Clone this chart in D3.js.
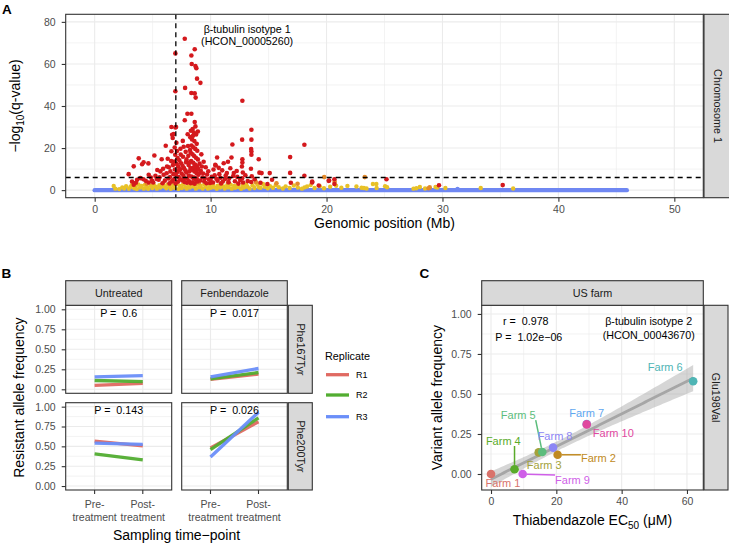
<!DOCTYPE html>
<html><head><meta charset="utf-8">
<script src="https://cdn.jsdelivr.net/npm/d3@7"></script>
<style>
body{margin:0;background:#fff}
svg text{font-family:"Liberation Sans",Arial,Helvetica,sans-serif}
</style>
</head><body>
<svg id="chart" width="729" height="547"></svg>
<script>
// ================= DATA =================
// Panel A: genomic position (Mb) and -log10(q-value)
const redPoints = [
[2.93,7.6],[3.22,4.1],[3.37,2.6],[3.66,4.9],[3.94,5.7],[3.37,11.3],[3.8,15.1],[4.09,12.3],[4.22,13.2],[4.63,12.7],[4.66,7.3],[4.66,3.6],[4.95,4.4],[5.15,16.5],[5.24,6.8],[5.52,4.9],[5.67,8.9],[5.78,14.7],[5.95,7.3],[5.85,3.3],[6.13,21.1],[6.24,11.2],[6.35,5.5],[6.45,3.2],[6.53,8.9],[6.6,13.8],[6.68,26.3],[6.73,24.8],[6.82,26.7],[6.62,18.5],[6.62,30.0],
[6.96,65],[6.96,47],[6.96,29.8],[7.02,30],[7.05,22.5],[6.9,20.3],[7.1,18.6],[6.95,16.8],[7.15,15.2],[6.88,13.6],[7.08,12.4],[7.2,11.1],[6.92,9.8],[7.12,8.6],[7.0,7.3],[7.25,6.2],[6.85,5.1],[7.18,4.0],[6.98,3.1],[7.3,14.2],[7.28,9.3],
[7.4,19.7],[7.45,12.8],[7.5,7.9],[7.55,4.6],[7.6,23.4],[7.62,15.9],[7.7,10.5],[7.72,5.8],[7.77,72],[7.8,48.6],[7.77,33.2],[7.85,18.2],[7.88,13.3],[7.9,8.4],[7.95,3.5],[8.0,36.3],[8.02,26.6],[8.05,21.0],[8.08,16.3],[8.1,11.9],[8.12,6.9],[8.15,4.2],
[8.34,64],[8.37,60],[8.63,67],[8.69,59],[8.77,58],[8.83,53],[9.12,51],[8.34,46.2],[8.63,46],[8.71,44],[8.34,36.3],[8.63,32.4],[8.3,28.2],[8.69,30.3],[8.45,29.1],[8.55,27.4],[8.75,26.5],[8.25,25.2],[8.4,24.1],[8.6,23.3],[8.8,22.0],[8.35,21.2],[8.5,20.4],[8.68,19.6],[8.85,18.7],[8.28,17.9],[8.44,17.0],[8.58,16.2],[8.73,15.4],[8.9,14.6],[8.32,13.8],[8.5,13.0],[8.66,12.2],[8.82,11.3],[8.26,10.5],[8.42,9.7],[8.6,8.9],[8.78,8.1],[8.95,7.3],[8.35,6.5],[8.52,5.7],[8.7,4.9],[8.88,4.1],[8.3,3.3],[8.62,3.0],[8.48,25.8],[8.9,27.9],
[9.2,17.0],[9.05,12.6],[9.15,9.2],[9.3,6.0],[9.45,4.1],[9.58,10.9],[9.7,7.4],[9.85,5.2],[9.95,3.4],[9.4,13.5],
[10.1,6.3],[10.25,9.8],[10.4,12.0],[10.44,11.7],[10.56,15.5],[10.6,4.5],[10.75,7.6],[10.9,3.2],[11.0,9.4],[11.13,12.8],[11.25,5.3],[11.4,8.1],[11.55,3.8],[11.7,10.4],[11.8,15.5],[11.88,21.7],[11.95,6.7],[12.1,4.2],[12.25,9.1],[12.4,3.1],
[12.74,42.5],[12.72,24],[12.74,14.7],[12.74,13.1],[12.7,11.2],[12.78,8.4],[12.72,5.6],[12.8,3.6],[13.0,7.1],[13.2,4.3],[13.52,28.7],[13.52,24],[13.5,19.5],[13.52,18.4],[13.52,16.8],[13.48,10.2],[13.55,6.6],[13.5,3.9],[13.8,5.2],[14.15,14.7],[14.21,8.3],[14.4,8.1],[14.3,3.5],
[15.1,8.1],[15.3,4.9],[14.9,2.9],[16.86,15.7],[16.86,8.2],[16.92,3.5],[18.09,21.6],[18.09,6.8],[18.76,3.6],[18.76,4.1],[19.33,2.2],[20.19,4.4],[20.22,4.6],[20.68,5.2],[20.68,2.9],
[25.17,5.2],[29.7,2.3],[35.2,2.4],
[5.4,9.6],[5.6,6.1],[5.9,10.2],[6.05,4.5],[6.2,8.0],[6.3,14.9],[6.4,10.9],[6.5,6.2],[6.7,4.3],[6.75,11.9],[6.8,7.6],[7.35,5.3],[7.4,9.9],[7.42,16.9],[7.58,11.6],[7.65,6.8],[7.68,20.6],[7.75,3.9],[7.82,9.4],[7.92,14.6],[7.98,5.4],[8.18,9.0],[8.2,13.2],[8.22,19.1],[8.45,3.7],[8.55,10.9],[8.6,6.0],[8.75,9.6],[8.8,5.5],[8.92,10.1],[9.0,8.0],[9.1,4.6],[9.25,11.2],[9.35,7.9],[9.5,5.6],[9.65,3.3],[9.8,9.0],[10.0,4.8],[10.2,3.6],[10.35,7.0],[10.5,5.4],[10.7,10.6],[10.85,5.9],[11.05,4.1],[11.3,6.9],[11.6,5.6],[11.5,13.5],[12.0,8.1],[12.3,6.3],[12.55,4.8],[4.4,4.4],[4.85,6.0],[5.05,3.6],[5.35,5.3],[3.55,3.5],[4.2,5.2]
];
const orangePoints = [
[4.5,3.1],[6.6,3.8],[9.0,3.6],[11.5,3.5],[13.9,3.9],[15.68,3.3],[17.5,3.0],[19.8,6.2],[20.7,4.0],[23.3,6.2],[28.8,0.9],[28.9,1.3]
];
const yellowPoints = [
[1.64,2.0],[1.78,0.7],[2.12,0.5],[2.38,1.3],[2.55,0.8],[2.71,1.9],[2.95,0.6],[3.08,1.5],[3.19,2.4],[3.41,0.9],[3.52,1.8],[3.63,0.5],[3.77,2.7],[3.92,1.2],[4.03,2.0],[4.24,0.7],[4.33,2.5],[4.52,1.4],[4.61,0.6],[4.83,2.1],[4.97,1.0],[5.08,2.8],[5.27,1.6],[5.36,0.7],[5.58,2.3],[5.66,1.2],[5.88,3.0],[5.97,1.7],[6.18,0.9],[6.27,2.6],[6.48,1.5],[6.57,0.6],[6.79,2.2],[6.88,1.1],[7.07,2.9],[7.22,0.5],[7.33,2.0],[7.52,1.0],[7.63,2.7],[7.84,1.4],[7.93,0.7],[8.12,2.3],[8.21,1.2],[8.43,3.0],[8.52,1.7],[8.73,0.7],[8.82,2.5],[9.03,1.3],[9.14,2.1],[9.32,0.8],[9.47,2.8],[9.58,1.6],[9.77,0.7],[9.92,2.3],[10.03,1.1],[10.22,2.7],[10.31,1.4],[10.53,0.6],[10.62,2.1],[10.83,1.2],[10.92,2.9],[11.13,1.7],[11.22,0.8],[11.43,2.4],[11.52,1.3],[11.73,2.6],[11.82,0.7],[12.03,2.0],[12.12,1.1],[12.33,2.8],[12.42,1.5],[12.63,0.6],[12.77,2.2],[12.88,1.2],[13.07,2.7],[13.18,1.6],[13.37,0.8],[13.62,2.3],[13.78,1.0],[14.03,2.6],[14.18,1.3],[14.31,1.1],[14.52,2.9],[14.68,1.6],[14.93,0.9],[15.12,1.9],[15.38,1.1],[15.62,2.4],[15.88,1.4],[16.23,0.8],[16.47,1.8],[16.82,1.0],[17.18,2.2],[17.53,1.2],[17.88,0.7],[18.1,1.3],[18.32,1.7],[18.63,2.4],[18.97,1.0],[19.42,1.9],[19.78,0.9],[20.31,1.6],[20.83,2.1],[21.28,1.1],[21.8,2.0],[22.58,1.7],[23.02,1.1],[23.22,1.0],[23.45,0.8],[24.0,2.9],[24.32,1.0],[24.3,2.9],[25.05,1.9],[25.22,1.4],[27.5,0.7],[27.75,0.9],[28.05,1.5],[28.5,0.8],[29.4,1.5],[29.55,1.2],[30.25,1.0],[33.3,1.0],[36.1,0.8]
];
const bluePoints = [[7.9,0.5],[12.5,0.4],[31.3,0.6]];
const blueSpan = [0, 45.9];
const genomeXTicks = [0,10,20,30,40,50];
const genomeYTicks = [0,20,40,60,80];
const markerPositionMb = 7.0;
const significanceLine = 6;
const geneLabelA = ["β-tubulin isotype 1","(HCON_00005260)"];
const chromosomeLabel = "Chromosome 1";

// Panel B: resistant allele frequency [pre, post] for R1, R2, R3
const treatments = ["Untreated","Fenbendazole"];
const mutations = ["Phe167Tyr","Phe200Tyr"];
const timepoints = [["Pre-","treatment"],["Post-","treatment"]];
const replicates = ["R1","R2","R3"];
const untreated167 = [[0.05,0.075],[0.11,0.095],[0.155,0.17]];
const fenbendazole167 = [[0.125,0.19],[0.13,0.21],[0.155,0.26]];
const untreated200 = [[0.565,0.505],[0.405,0.33],[0.54,0.525]];
const fenbendazole200 = [[0.48,0.81],[0.46,0.86],[0.365,0.93]];
const pValuesB = [["0.6","0.017"],["0.143","0.026"]];
const freqTicks = [0,0.25,0.5,0.75,1];

// Panel C: thiabendazole EC50 vs variant allele frequency
const farms = ["Farm 1","Farm 2","Farm 3","Farm 4","Farm 5","Farm 6","Farm 7","Farm 8","Farm 9","Farm 10"];
const ec50 = [0, 20.4, 14.6, 7.2, 15.7, 61.9, 29.3, 19.0, 9.7, 29.3];
const variantFreq = [0.0, 0.12, 0.135, 0.03, 0.137, 0.579, 0.312, 0.165, 0.0, 0.31];
const ec50Ticks = [0,20,40,60];
const statsC = ["r =  0.978","P =  1.02e\u221206"];
const geneLabelC = ["β-tubulin isotype 2","(HCON_00043670)"];

// ================= STYLE =================
const LINE = "#333333", TICKTXT = "#4d4d4d", GRID = "#ebebeb", STRIP = "#d9d9d9";
const TICKF = 10.5, STRIPF = 10.8, TITLEF = 14;
const replicateColors = ["#e06a62","#52ad31","#6b8ff9"];
const farmColors = ["#d9736b","#c08a22","#a3a23a","#5aab2a","#5cbd7c","#4fb5b5","#5fa7f0","#8c86f5","#cf5fe8","#e0489f"];
const labelOffsets = [[12,8.7],[40.7,3.5],[5.6,12.6],[-11.2,-28.2],[-24,-37],[-27.9,-13.7],[0,-11],[2,-11.6],[49.8,6],[26.6,9]];

const svg = d3.select("#chart");
svg.append("rect").attr("width",729).attr("height",547).attr("fill","#fff");

function panelBg(g, b, xs, ys, xMaj, xMin, yMaj, yMin){
  g.append("rect").attr("x",b.x0).attr("y",b.y0).attr("width",b.x1-b.x0).attr("height",b.y1-b.y0).attr("fill","#fff");
  const gl = g.append("g");
  xMin.forEach(v=>gl.append("line").attr("x1",xs(v)).attr("x2",xs(v)).attr("y1",b.y0).attr("y2",b.y1).attr("stroke",GRID).attr("stroke-width",0.6));
  yMin.forEach(v=>gl.append("line").attr("y1",ys(v)).attr("y2",ys(v)).attr("x1",b.x0).attr("x2",b.x1).attr("stroke",GRID).attr("stroke-width",0.6));
  xMaj.forEach(v=>gl.append("line").attr("x1",xs(v)).attr("x2",xs(v)).attr("y1",b.y0).attr("y2",b.y1).attr("stroke",GRID).attr("stroke-width",1.1));
  yMaj.forEach(v=>gl.append("line").attr("y1",ys(v)).attr("y2",ys(v)).attr("x1",b.x0).attr("x2",b.x1).attr("stroke",GRID).attr("stroke-width",1.1));
}
function border(g, b){
  g.append("rect").attr("x",b.x0).attr("y",b.y0).attr("width",b.x1-b.x0).attr("height",b.y1-b.y0)
   .attr("fill","none").attr("stroke",LINE).attr("stroke-width",1.1);
}
function styleAxis(a){
  a.select(".domain").remove();
  a.selectAll(".tick line").attr("stroke",LINE).attr("stroke-width",1.1);
  a.selectAll(".tick text").attr("fill",TICKTXT).attr("font-size",TICKF).attr("font-family",null);
  a.attr("font-family",null);
}
function leftAxis(g, b, ys, vals, fmt){
  g.append("g").attr("transform",`translate(${b.x0},0)`)
   .call(d3.axisLeft(ys).tickValues(vals).tickSize(4).tickPadding(6).tickFormat(fmt)).call(styleAxis);
}
function bottomAxis(g, b, xs, vals, fmt){
  g.append("g").attr("transform",`translate(0,${b.y1})`)
   .call(d3.axisBottom(xs).tickValues(vals).tickSize(4).tickPadding(3.5).tickFormat(fmt)).call(styleAxis);
}
function stripTop(g, x0, x1, y0, y1, label){
  g.append("rect").attr("x",x0).attr("y",y0).attr("width",x1-x0).attr("height",y1-y0)
   .attr("fill",STRIP).attr("stroke",LINE).attr("stroke-width",1.1);
  g.append("text").attr("x",(x0+x1)/2).attr("y",(y0+y1)/2).attr("dy","0.35em")
   .attr("text-anchor","middle").attr("font-size",STRIPF).attr("fill","#1a1a1a").text(label);
}
function stripRight(g, x0, x1, y0, y1, label){
  g.append("rect").attr("x",x0).attr("y",y0).attr("width",x1-x0).attr("height",y1-y0)
   .attr("fill",STRIP).attr("stroke",LINE).attr("stroke-width",1.1);
  const cx=(x0+x1)/2, cy=(y0+y1)/2;
  g.append("text").attr("transform",`translate(${cx},${cy}) rotate(90)`).attr("dy","0.35em")
   .attr("text-anchor","middle").attr("font-size",STRIPF).attr("fill","#1a1a1a").text(label);
}
function panelTag(x,y,t){
  svg.append("text").attr("x",x).attr("y",y).attr("font-size",13.5).attr("font-weight","bold").text(t);
}

// ================= PANEL A =================
{
  const b = {x0:65.7,x1:703.3,y0:14.3,y1:197.7};
  const g = svg.append("g");
  const xs = d3.scaleLinear().domain([-2.5,52.5]).range([b.x0,b.x1]);
  const ys = d3.scaleLinear().domain([-3.6,83.6]).range([b.y1,b.y0]);
  panelBg(g,b,xs,ys,genomeXTicks,[5,15,25,35,45],genomeYTicks,[10,30,50,70]);
  g.append("clipPath").attr("id","clipA").append("rect").attr("x",b.x0).attr("y",b.y0).attr("width",b.x1-b.x0).attr("height",b.y1-b.y0);
  const pg = g.append("g").attr("clip-path","url(#clipA)");
  pg.append("line").attr("x1",xs(blueSpan[0])).attr("x2",xs(blueSpan[1])).attr("y1",ys(0)).attr("y2",ys(0))
    .attr("stroke","#6f87f2").attr("stroke-width",4.4).attr("stroke-linecap","round");
  pg.selectAll(".bp").data(bluePoints).join("circle").attr("cx",d=>xs(d[0])).attr("cy",d=>ys(d[1])).attr("r",2.2).attr("fill","#6f87f2");
  pg.selectAll(".yp").data(yellowPoints).join("circle").attr("cx",d=>xs(d[0])).attr("cy",d=>ys(d[1])).attr("r",2.2).attr("fill","#e8c127");
  pg.selectAll(".op").data(orangePoints).join("circle").attr("cx",d=>xs(d[0])).attr("cy",d=>ys(d[1])).attr("r",2.3).attr("fill","#e48a2a");
  pg.selectAll(".rp").data(redPoints).join("circle").attr("cx",d=>xs(d[0])).attr("cy",d=>ys(d[1])).attr("r",2.3).attr("fill","#d4191d");
  pg.append("line").attr("x1",xs(markerPositionMb)).attr("x2",xs(markerPositionMb)).attr("y1",b.y0).attr("y2",b.y1)
    .attr("stroke","#000").attr("stroke-width",1.3).attr("stroke-dasharray","5,4");
  pg.append("line").attr("x1",b.x0).attr("x2",b.x1).attr("y1",ys(significanceLine)).attr("y2",ys(significanceLine))
    .attr("stroke","#000").attr("stroke-width",1.3).attr("stroke-dasharray","5,4");
  geneLabelA.forEach((t,i)=>g.append("text").attr("x",xs(13.15)).attr("y",ys(76.6)+i*12.7).attr("dy","0.35em")
    .attr("text-anchor","middle").attr("font-size",10.7).attr("fill","#000").text(t));
  border(g,b);
  leftAxis(g,b,ys,genomeYTicks,d3.format("d"));
  bottomAxis(g,b,xs,genomeXTicks,d3.format("d"));
  stripRight(g,704,731,b.y0,b.y1,chromosomeLabel);
  g.append("text").attr("x",(b.x0+b.x1)/2).attr("y",228).attr("text-anchor","middle").attr("font-size",TITLEF).text("Genomic position (Mb)");
  const yt = g.append("text").attr("transform",`translate(15.5,${(b.y0+b.y1)/2}) rotate(-90)`).attr("dy","0.35em")
    .attr("text-anchor","middle").attr("font-size",TITLEF);
  yt.append("tspan").text("\u2212log");
  yt.append("tspan").attr("font-size",10).attr("dy","4").text("10");
  yt.append("tspan").attr("dy","-4").text("(q-value)");
  panelTag(2,13.5,"A");
}

// ================= PANEL B =================
{
  const cols = [{x0:65.7,x1:171.7},{x0:181.7,x1:287.3}];
  const rows = [{y0:305.3,y1:393.3},{y0:402.7,y1:490}];
  const series = [[untreated167,fenbendazole167],[untreated200,fenbendazole200]];
  const g = svg.append("g");
  rows.forEach((r,ri)=>{
    cols.forEach((c,ci)=>{
      const b = {x0:c.x0,x1:c.x1,y0:r.y0,y1:r.y1};
      const xs = d3.scalePoint().domain([0,1]).range([b.x0,b.x1]).padding(0.6);
      const ys = d3.scaleLinear().domain([-0.05,1.05]).range([b.y1,b.y0]);
      panelBg(g,b,xs,ys,[0,1],[],freqTicks,[0.125,0.375,0.625,0.875]);
      series[ri][ci].forEach((v,k)=>{
        g.append("line").attr("x1",xs(0)).attr("x2",xs(1)).attr("y1",ys(v[0])).attr("y2",ys(v[1]))
          .attr("stroke",replicateColors[k]).attr("stroke-width",3.3).attr("opacity",0.95);
      });
      g.append("text").attr("x",(b.x0+b.x1)/2).attr("y",ys(0.95)).attr("dy","0.35em").attr("text-anchor","middle")
        .attr("font-size",10.7).style("white-space","pre").text("P =  "+pValuesB[ri][ci]);
      border(g,b);
      if(ci===0) leftAxis(g,b,ys,freqTicks,d3.format(".2f"));
      if(ri===1){
        const ax = g.append("g");
        [0,1].forEach(t=>{
          ax.append("line").attr("x1",xs(t)).attr("x2",xs(t)).attr("y1",b.y1).attr("y2",b.y1+4).attr("stroke",LINE).attr("stroke-width",1.1);
          timepoints[t].forEach((ln,li)=>ax.append("text").attr("x",xs(t)).attr("y",b.y1+17.5+li*13)
            .attr("text-anchor","middle").attr("font-size",TICKF).attr("fill",TICKTXT).text(ln));
        });
      }
      if(ri===0) stripTop(g,c.x0,c.x1,280.7,305.3,treatments[ci]);
      if(ci===1) stripRight(g,288.3,312.3,r.y0,r.y1,mutations[ri]);
    });
  });
  g.append("text").attr("x",(65.7+287.3)/2).attr("y",540).attr("text-anchor","middle").attr("font-size",TITLEF).text("Sampling time\u2212point");
  g.append("text").attr("transform",`translate(19,${(305.3+490)/2}) rotate(-90)`).attr("dy","0.35em")
    .attr("text-anchor","middle").attr("font-size",TITLEF).text("Resistant allele frequency");
  // legend
  g.append("text").attr("x",325).attr("y",359.5).attr("font-size",10.8).text("Replicate");
  const keyY = [374.7,395,416.7];
  replicates.forEach((r,i)=>{
    g.append("line").attr("x1",326).attr("x2",349).attr("y1",keyY[i]).attr("y2",keyY[i]).attr("stroke",replicateColors[i]).attr("stroke-width",3.3);
    g.append("text").attr("x",356).attr("y",keyY[i]).attr("dy","0.35em").attr("font-size",9).text(r);
  });
  panelTag(1.5,277.7,"B");
}

// ================= PANEL C =================
{
  const b = {x0:481.7,x1:703.3,y0:305.3,y1:490};
  const g = svg.append("g");
  const xs = d3.scaleLinear().domain([-2.85,65.0]).range([b.x0,b.x1]);
  const ys = d3.scaleLinear().domain([-0.1,1.054]).range([b.y1,b.y0]);
  panelBg(g,b,xs,ys,ec50Ticks,[10,30,50],freqTicks,[0.125,0.375,0.625,0.875]);
  // linear fit with 95% confidence band
  const n = ec50.length, mx = d3.mean(ec50), my = d3.mean(variantFreq);
  const sxx = d3.sum(ec50,x=>(x-mx)*(x-mx));
  const sxy = d3.sum(ec50.map((x,i)=>(x-mx)*(variantFreq[i]-my)));
  const slope = sxy/sxx, icpt = my - slope*mx;
  const s = Math.sqrt(d3.sum(ec50.map((x,i)=>Math.pow(variantFreq[i]-(icpt+slope*x),2)))/(n-2));
  const tCrit = 2.306;
  const [xmin,xmax] = d3.extent(ec50);
  const grid = d3.range(0,81).map(i=>xmin+(xmax-xmin)*i/80);
  const band = grid.map(x=>{const f=icpt+slope*x, se=s*Math.sqrt(1/n+(x-mx)*(x-mx)/sxx); return [x,f-tCrit*se,f+tCrit*se,f];});
  g.append("clipPath").attr("id","clipC").append("rect").attr("x",b.x0).attr("y",b.y0).attr("width",b.x1-b.x0).attr("height",b.y1-b.y0);
  const pg = g.append("g").attr("clip-path","url(#clipC)");
  pg.append("path").attr("d",d3.area().x(d=>xs(d[0])).y0(d=>ys(d[1])).y1(d=>ys(d[2]))(band)).attr("fill","#999").attr("opacity",0.4);
  pg.append("path").attr("d",d3.line().x(d=>xs(d[0])).y(d=>ys(d[3]))(band)).attr("fill","none").attr("stroke","#a6a6a6").attr("stroke-width",2.8);
  const pr = 4.3;
  farms.forEach((f,i)=>pg.append("circle").attr("cx",xs(ec50[i])).attr("cy",ys(variantFreq[i])).attr("r",pr).attr("fill",farmColors[i]));
  // repelled labels
  const lg = g.append("g");
  farms.forEach((f,i)=>{
    const px = xs(ec50[i]), py = ys(variantFreq[i]);
    const lx = px+labelOffsets[i][0], ly = py+labelOffsets[i][1];
    const t = lg.append("text").attr("x",lx).attr("y",ly).attr("dy","0.35em").attr("text-anchor","middle")
      .attr("font-size",11).attr("fill",farmColors[i]).text(f);
    const bb = t.node().getBBox();
    const bx0 = bb.x, bx1 = bb.x+bb.width, by0 = ly-5, by1 = ly+5;
    const nx = Math.max(bx0,Math.min(px,bx1)), ny = Math.max(by0,Math.min(py,by1));
    const dist = Math.hypot(nx-px,ny-py);
    if(dist>15){
      const sx = px+(nx-px)/dist*pr, sy = py+(ny-py)/dist*pr;
      lg.insert("line","text").attr("x1",sx).attr("y1",sy).attr("x2",nx).attr("y2",ny)
        .attr("stroke",farmColors[i]).attr("stroke-width",1.5);
    }
  });
  g.append("text").attr("x",525.8).attr("y",321).attr("dy","0.35em").attr("text-anchor","middle").attr("font-size",10.7).style("white-space","pre").text(statsC[0]);
  g.append("text").attr("x",528.8).attr("y",337.7).attr("dy","0.35em").attr("text-anchor","middle").attr("font-size",10.7).style("white-space","pre").text(statsC[1]);
  geneLabelC.forEach((t,i)=>g.append("text").attr("x",648.7).attr("y",321+i*14).attr("dy","0.35em").attr("text-anchor","middle").attr("font-size",10.7).text(t));
  border(g,b);
  leftAxis(g,b,ys,freqTicks,d3.format(".2f"));
  bottomAxis(g,b,xs,ec50Ticks,d3.format("d"));
  stripTop(g,b.x0,b.x1,280.7,305.3,"US farm");
  stripRight(g,704,728,b.y0,b.y1,"Glu198Val");
  const xt = g.append("text").attr("x",(b.x0+b.x1)/2).attr("y",524.5).attr("text-anchor","middle").attr("font-size",TITLEF);
  xt.append("tspan").text("Thiabendazole EC");
  xt.append("tspan").attr("font-size",10).attr("dy",4).text("50");
  xt.append("tspan").attr("dy",-4).text(" (\u03bcM)");
  g.append("text").attr("transform",`translate(437,${(b.y0+b.y1)/2}) rotate(-90)`).attr("dy","0.35em")
    .attr("text-anchor","middle").attr("font-size",TITLEF).text("Variant allele frequency");
  panelTag(419.5,277.7,"C");
}
</script>
</body></html>
